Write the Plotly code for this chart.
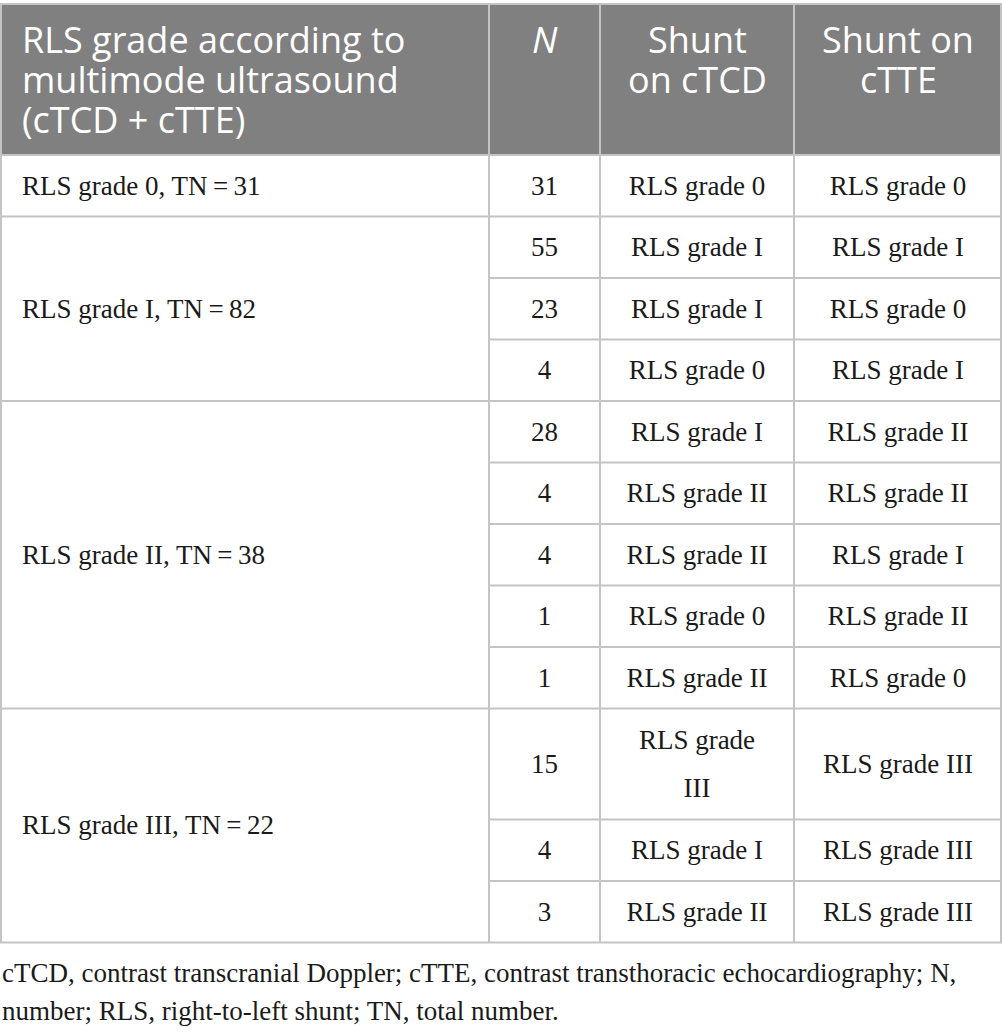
import textwrap
import plotly.graph_objects as go

# Table data
group_labels = ["RLS grade 0", "RLS grade I", "RLS grade II", "RLS grade III"]
group_totals = [31, 82, 38, 22]
row_group = [0, 1, 1, 1, 2, 2, 2, 2, 2, 3, 3, 3]
n_values = [31, 55, 23, 4, 28, 4, 4, 1, 1, 15, 4, 3]
shunt_ctcd = ["RLS grade 0", "RLS grade I", "RLS grade I", "RLS grade 0",
              "RLS grade I", "RLS grade II", "RLS grade II", "RLS grade 0",
              "RLS grade II", "RLS grade III", "RLS grade I", "RLS grade II"]
shunt_ctte = ["RLS grade 0", "RLS grade I", "RLS grade 0", "RLS grade I",
              "RLS grade II", "RLS grade II", "RLS grade I", "RLS grade II",
              "RLS grade 0", "RLS grade III", "RLS grade III", "RLS grade III"]
headers = [["RLS grade according to", "multimode ultrasound", "(cTCD + cTTE)"],
           ["<i>N</i>"], ["Shunt", "on cTCD"], ["Shunt on", "cTTE"]]
footnote = ["cTCD, contrast transcranial Doppler; cTTE, contrast transthoracic echocardiography; N,",
            "number; RLS, right-to-left shunt; TN, total number."]

# Layout / style
W, H = 1002, 1032
col_x = [0, 489, 600, 794, 1002]
wrap_width = [40, 10, 12, 20]
table_top = 4
header_h = 151
row_h = 61.5
extra_line_h = 49.5
line_gap = 48
text_dy = 2
grid = "#c4c4c4"
header_bg = "#808080"
serif = "Liberation Serif"
sans = "Open Sans"
body_size = 27
text_color = "#1a1a1a"

# wrap the cell texts per column
cols = [[str(v) for v in n_values], shunt_ctcd, shunt_ctte]
wrapped = [[textwrap.wrap(t, wrap_width[i + 1]) for t in col] for i, col in enumerate(cols)]
n_lines = [max(len(wrapped[c][r]) for c in range(3)) for r in range(len(n_values))]

# row boundaries
edges = [table_top + header_h]
for k in n_lines:
    edges.append(edges[-1] + row_h + (k - 1) * extra_line_h)
bottom = edges[-1]

fig = go.Figure()

# body cells (columns 2-4)
for c in range(3):
    xs, ys, ts = [], [], []
    xc = (col_x[c + 1] + col_x[c + 2]) / 2
    for r, lines in enumerate(wrapped[c]):
        yc = (edges[r] + edges[r + 1]) / 2 + text_dy
        for i, ln in enumerate(lines):
            xs.append(xc)
            ys.append(yc + (i - (len(lines) - 1) / 2) * line_gap)
            ts.append(ln)
    fig.add_trace(go.Scatter(
        x=xs, y=ys, text=ts, mode="text", textposition="middle center",
        textfont=dict(family=serif, size=body_size, color=text_color),
        hoverinfo="skip", showlegend=False
    ))

# merged group label column
gx, gy, gt = [], [], []
for g, (lab, tot) in enumerate(zip(group_labels, group_totals)):
    rows = [r for r, rg in enumerate(row_group) if rg == g]
    gx.append(col_x[0] + 22)
    gy.append((edges[rows[0]] + edges[rows[-1] + 1]) / 2 + text_dy)
    gt.append(f"{lab}, TN\u2009=\u2009{tot}")
fig.add_trace(go.Scatter(
    x=gx, y=gy, text=gt, mode="text", textposition="middle right",
    textfont=dict(family=serif, size=body_size, color=text_color),
    hoverinfo="skip", showlegend=False
))

shapes = [dict(type="rect", x0=col_x[0], x1=col_x[-1], y0=table_top, y1=edges[0],
               fillcolor=header_bg, line=dict(width=0), layer="below")]
line = dict(color=grid, width=2)
# horizontal lines
shapes.append(dict(type="line", x0=col_x[0], x1=col_x[-1], y0=table_top, y1=table_top, line=line))
shapes.append(dict(type="line", x0=col_x[0], x1=col_x[-1], y0=edges[0], y1=edges[0], line=line))
for r in range(len(n_values)):
    last_in_group = r == len(n_values) - 1 or row_group[r + 1] != row_group[r]
    x0 = col_x[0] if last_in_group else col_x[1]
    shapes.append(dict(type="line", x0=x0, x1=col_x[-1], y0=edges[r + 1], y1=edges[r + 1], line=line))
# vertical lines
for x in col_x:
    xx = min(max(x, 1), W - 1)
    shapes.append(dict(type="line", x0=xx, x1=xx, y0=table_top, y1=bottom, line=line))

annotations = []
for c, hlines in enumerate(headers):
    if c == 0:
        ax, anchor = col_x[0] + 20, "left"
    else:
        ax, anchor = (col_x[c] + col_x[c + 1]) / 2, "center"
    for i, htxt in enumerate(hlines):
        annotations.append(dict(
            text=htxt, x=ax, y=table_top + 35 + i * 40, xref="x", yref="y",
            xanchor=anchor, yanchor="middle", showarrow=False,
            font=dict(family=sans, size=36, color="white")
        ))
for i, ft in enumerate(footnote):
    annotations.append(dict(
        text=ft, x=0, y=bottom + 30 + i * 38, xref="x", yref="y",
        xanchor="left", yanchor="middle", showarrow=False,
        font=dict(family=serif, size=27, color=text_color)
    ))

fig.update_layout(
    width=W, height=H,
    margin=dict(l=0, r=0, t=0, b=0),
    plot_bgcolor="white", paper_bgcolor="white",
    xaxis=dict(range=[0, W], visible=False, fixedrange=True),
    yaxis=dict(range=[H, 0], visible=False, fixedrange=True),
    shapes=shapes, annotations=annotations
)

fig.write_html("out.html", config={"displayModeBar": False},
               post_script="document.body.style.margin='0';")
